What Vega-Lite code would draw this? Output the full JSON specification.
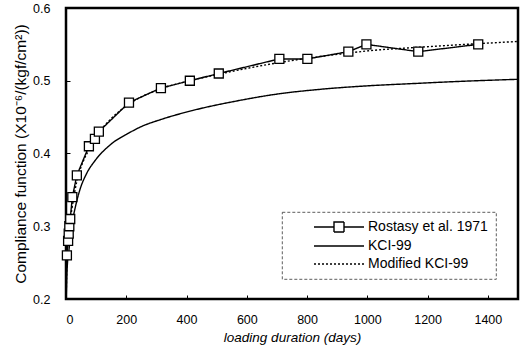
{
  "$schema": "https://vega.github.io/schema/vega-lite/v6.json",
  "width": 452,
  "height": 291,
  "autosize": {"type": "none"},
  "padding": {"left": 66, "top": 8, "right": 3, "bottom": 52},
  "background": "white",
  "config": {
    "font": "Liberation Sans",
    "view": {"stroke": "black", "strokeWidth": 2.5},
    "axis": {
      "domain": false,
      "grid": false,
      "labelFont": "Liberation Sans",
      "labelFontSize": 12.5,
      "labelColor": "black",
      "titleFont": "Liberation Sans",
      "titleFontWeight": "normal",
      "titleColor": "black",
      "tickColor": "black",
      "tickWidth": 1,
      "tickSize": -4
    },
    "legend": {"labelFont": "Liberation Sans", "labelColor": "black"}
  },
  "data": {
    "values": [
      {"series": "Rostasy et al. 1971", "day": 3, "value": 0.26},
      {"series": "Rostasy et al. 1971", "day": 7, "value": 0.28},
      {"series": "Rostasy et al. 1971", "day": 9, "value": 0.29},
      {"series": "Rostasy et al. 1971", "day": 11, "value": 0.30},
      {"series": "Rostasy et al. 1971", "day": 14, "value": 0.31},
      {"series": "Rostasy et al. 1971", "day": 21, "value": 0.34},
      {"series": "Rostasy et al. 1971", "day": 36, "value": 0.37},
      {"series": "Rostasy et al. 1971", "day": 76, "value": 0.41},
      {"series": "Rostasy et al. 1971", "day": 96, "value": 0.42},
      {"series": "Rostasy et al. 1971", "day": 109, "value": 0.43},
      {"series": "Rostasy et al. 1971", "day": 209, "value": 0.47},
      {"series": "Rostasy et al. 1971", "day": 315, "value": 0.49},
      {"series": "Rostasy et al. 1971", "day": 411, "value": 0.50},
      {"series": "Rostasy et al. 1971", "day": 507, "value": 0.51},
      {"series": "Rostasy et al. 1971", "day": 708, "value": 0.53},
      {"series": "Rostasy et al. 1971", "day": 801, "value": 0.53},
      {"series": "Rostasy et al. 1971", "day": 937, "value": 0.54},
      {"series": "Rostasy et al. 1971", "day": 997, "value": 0.55},
      {"series": "Rostasy et al. 1971", "day": 1169, "value": 0.54},
      {"series": "Rostasy et al. 1971", "day": 1368, "value": 0.55},

      {"series": "KCI-99", "day": 1, "value": 0.205},
      {"series": "KCI-99", "day": 3, "value": 0.235},
      {"series": "KCI-99", "day": 5, "value": 0.25},
      {"series": "KCI-99", "day": 10, "value": 0.268},
      {"series": "KCI-99", "day": 20, "value": 0.302},
      {"series": "KCI-99", "day": 36, "value": 0.335},
      {"series": "KCI-99", "day": 46, "value": 0.35},
      {"series": "KCI-99", "day": 69, "value": 0.373},
      {"series": "KCI-99", "day": 96, "value": 0.39},
      {"series": "KCI-99", "day": 150, "value": 0.413},
      {"series": "KCI-99", "day": 208, "value": 0.428},
      {"series": "KCI-99", "day": 250, "value": 0.437},
      {"series": "KCI-99", "day": 317, "value": 0.447},
      {"series": "KCI-99", "day": 419, "value": 0.459},
      {"series": "KCI-99", "day": 564, "value": 0.472},
      {"series": "KCI-99", "day": 706, "value": 0.482},
      {"series": "KCI-99", "day": 838, "value": 0.488},
      {"series": "KCI-99", "day": 1000, "value": 0.493},
      {"series": "KCI-99", "day": 1145, "value": 0.496},
      {"series": "KCI-99", "day": 1300, "value": 0.499},
      {"series": "KCI-99", "day": 1500, "value": 0.502},

      {"series": "Modified KCI-99", "day": 1, "value": 0.21},
      {"series": "Modified KCI-99", "day": 3, "value": 0.25},
      {"series": "Modified KCI-99", "day": 5, "value": 0.27},
      {"series": "Modified KCI-99", "day": 10, "value": 0.295},
      {"series": "Modified KCI-99", "day": 20, "value": 0.325},
      {"series": "Modified KCI-99", "day": 36, "value": 0.362},
      {"series": "Modified KCI-99", "day": 56, "value": 0.388},
      {"series": "Modified KCI-99", "day": 76, "value": 0.405},
      {"series": "Modified KCI-99", "day": 100, "value": 0.423},
      {"series": "Modified KCI-99", "day": 150, "value": 0.448},
      {"series": "Modified KCI-99", "day": 209, "value": 0.468},
      {"series": "Modified KCI-99", "day": 315, "value": 0.489},
      {"series": "Modified KCI-99", "day": 411, "value": 0.5},
      {"series": "Modified KCI-99", "day": 507, "value": 0.509},
      {"series": "Modified KCI-99", "day": 600, "value": 0.517},
      {"series": "Modified KCI-99", "day": 708, "value": 0.525},
      {"series": "Modified KCI-99", "day": 801, "value": 0.531},
      {"series": "Modified KCI-99", "day": 937, "value": 0.538},
      {"series": "Modified KCI-99", "day": 1000, "value": 0.541},
      {"series": "Modified KCI-99", "day": 1169, "value": 0.546},
      {"series": "Modified KCI-99", "day": 1368, "value": 0.551},
      {"series": "Modified KCI-99", "day": 1500, "value": 0.554}
    ]
  },
  "encoding": {
    "x": {
      "field": "day",
      "type": "quantitative",
      "scale": {"domain": [0, 1500], "nice": false},
      "axis": {
        "title": "loading duration (days)",
        "titleFontStyle": "italic",
        "titleFontSize": 13.5,
        "format": "d",
        "values": [0, 200, 400, 600, 800, 1000, 1200, 1400],
        "labelPadding": 18,
        "titlePadding": 5
      }
    },
    "y": {
      "field": "value",
      "type": "quantitative",
      "scale": {"domain": [0.2, 0.6], "nice": false, "zero": false},
      "axis": {
        "title": "Compliance function (X10⁻⁶/(kgf/cm²))",
        "titleFontSize": 15.5,
        "values": [0.2, 0.3, 0.4, 0.5, 0.6],
        "format": ".1f",
        "labelPadding": 20,
        "titlePadding": 4
      }
    }
  },
  "layer": [
    {
      "transform": [{"filter": "datum.series !== 'Rostasy et al. 1971'"}],
      "mark": {"type": "line", "interpolate": "monotone", "color": "black", "strokeWidth": 1.4},
      "encoding": {
        "strokeDash": {
          "field": "series",
          "type": "nominal",
          "scale": {
            "domain": ["Rostasy et al. 1971", "KCI-99", "Modified KCI-99"],
            "range": [[1, 0], [1, 0], [2, 2]]
          },
          "legend": {
            "title": null,
            "orient": "none",
            "legendX": 216,
            "legendY": 204,
            "padding": 8,
            "symbolSize": 100,
            "symbolStrokeWidth": 1.4,
            "symbolStrokeColor": "black",
            "symbolOffset": 42,
            "labelOffset": 22,
            "labelFontSize": 14,
            "labelLimit": 400,
            "rowPadding": 4,
            "strokeColor": "#333333",
            "encode": {
              "symbols": {
                "update": {
                  "shape": {"signal": "datum.value === 'Rostasy et al. 1971' ? 'M-5,0H-1M1,0H5M-1,-1H1V1H-1Z' : 'M-5,0H5'"},
                  "fill": {"value": "white"},
                  "stroke": {"value": "black"}
                }
              },
              "legend": {
                "update": {
                  "strokeDash": {"value": [3, 2]},
                  "strokeWidth": {"value": 0.8}
                }
              }
            }
          }
        }
      }
    },
    {
      "transform": [{"filter": "datum.series === 'Rostasy et al. 1971'"}],
      "mark": {"type": "line", "color": "black", "strokeWidth": 1.4},
      "encoding": {
        "strokeDash": {"field": "series", "type": "nominal"}
      }
    },
    {
      "transform": [{"filter": "datum.series === 'Rostasy et al. 1971'"}],
      "mark": {
        "type": "point",
        "shape": "square",
        "filled": true,
        "fill": "white",
        "stroke": "black",
        "strokeWidth": 1.3,
        "size": 81,
        "opacity": 1
      }
    }
  ]
}
